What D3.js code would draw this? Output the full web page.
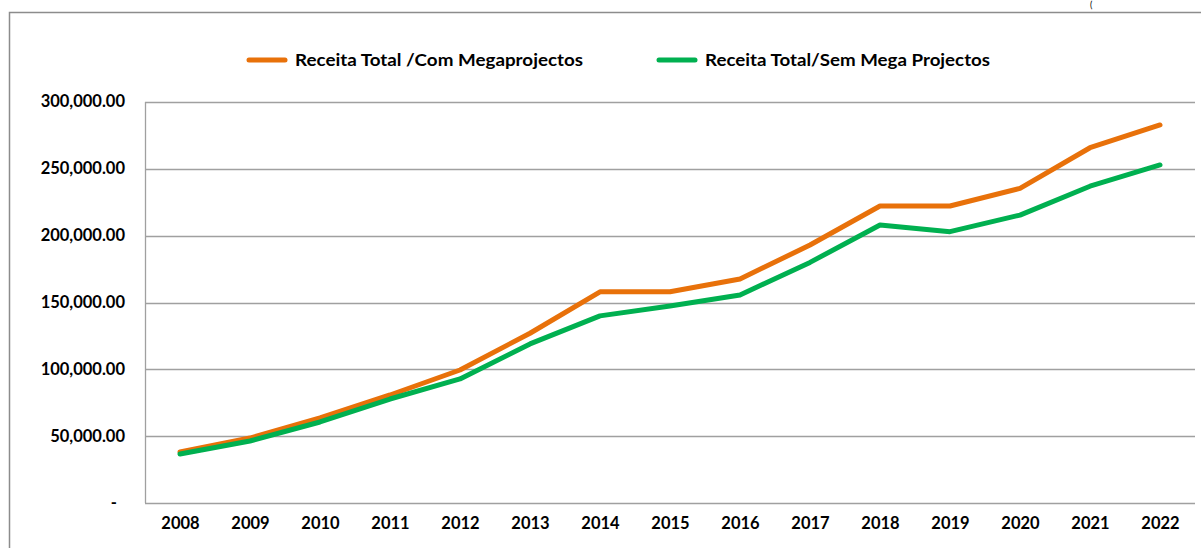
<!DOCTYPE html>
<html lang="pt">
<head>
<meta charset="UTF-8">
<title>Receita Total</title>
<script src="https://d3js.org/d3.v7.min.js"></script>
<style>
  body { margin: 0; background: #fff; }
  svg { display: block; font-family: Lato, "Open Sans", sans-serif; }
  .tick text { font-weight: bold; fill: #000; }
</style>
</head>
<body>
<svg id="chart" width="1201" height="548"></svg>
<script>
  const years = ["2008","2009","2010","2011","2012","2013","2014","2015","2016","2017","2018","2019","2020","2021","2022"];
  const comMega = [38200, 48600, 63600, 80800, 99500, 127000, 158000, 158000, 167600, 193000, 222200, 222200, 235400, 265800, 282800];
  const semMega = [36700, 46400, 60600, 77800, 92800, 119000, 140000, 147400, 155600, 180000, 208000, 203000, 215400, 237000, 252900];
  const yTicks = [0, 50000, 100000, 150000, 200000, 250000, 300000];
  const seriesNames = ["Receita Total /Com Megaprojectos", "Receita Total/Sem Mega Projectos"];
  const colors = ["#e8710a", "#00b050"];

  const svg = d3.select("#chart");
  const W = 1201, H = 548;
  const m = { left: 145, right: 1195, top: 102, bottom: 503 };

  // outer chart frame (cut off on right and bottom)
  svg.append("path")
    .attr("d", `M9.5,${H + 2}V12.5H${W + 2}`)
    .attr("fill", "none").attr("stroke", "#8c8c8c").attr("stroke-width", 1.5);

  svg.append("text").attr("x", 1090).attr("y", 8).attr("font-size", 9).attr("fill", "#000").text("(");

  const x = d3.scalePoint().domain(years).range([m.left, m.right]).padding(0.5);
  const y = d3.scaleLinear().domain([0, 300000]).range([m.bottom, m.top]);

  // gridlines
  svg.append("g").selectAll("line").data(yTicks).join("line")
    .attr("x1", m.left).attr("x2", m.right)
    .attr("y1", d => Math.round(y(d)) + 0.5).attr("y2", d => Math.round(y(d)) + 0.5)
    .attr("stroke", "#a0a0a0").attr("stroke-width", 1.3);

  svg.append("line")
    .attr("x1", m.left + 0.5).attr("x2", m.left + 0.5)
    .attr("y1", m.top).attr("y2", m.bottom)
    .attr("stroke", "#a0a0a0").attr("stroke-width", 1.3);

  const fmt = d => d === 0 ? "-" : d3.format(",.2f")(d);
  const yAxis = svg.append("g")
    .attr("transform", `translate(${m.left - 20},0)`)
    .call(d3.axisLeft(y).tickValues(yTicks).tickFormat(fmt).tickSize(0).tickPadding(0));
  yAxis.select(".domain").remove();
  yAxis.selectAll("text").attr("font-size", 16.5).attr("font-family", "Lato, sans-serif")
    .attr("dy", "0.3em")
    .attr("dx", d => d === 0 ? -8 : 0);

  const xAxis = svg.append("g")
    .attr("transform", `translate(0,${m.bottom})`)
    .call(d3.axisBottom(x).tickSize(0).tickPadding(14));
  xAxis.select(".domain").remove();
  xAxis.selectAll("text").attr("font-size", 16.5).attr("font-family", "Lato, sans-serif");

  const line = d3.line().x((d, i) => x(years[i])).y(d => y(d));
  [comMega, semMega].forEach((s, k) => {
    svg.append("path").datum(s)
      .attr("d", line)
      .attr("fill", "none")
      .attr("stroke", colors[k])
      .attr("stroke-width", 5)
      .attr("stroke-linejoin", "round")
      .attr("stroke-linecap", "round");
  });

  // legend
  const legX = [247, 657];
  const legW = [288, 285];
  seriesNames.forEach((name, k) => {
    const g = svg.append("g").attr("transform", `translate(${legX[k]},60)`);
    g.append("line").attr("x1", 2).attr("x2", 38).attr("y1", 0).attr("y2", 0)
      .attr("stroke", colors[k]).attr("stroke-width", 5).attr("stroke-linecap", "round");
    g.append("text").attr("x", 48).attr("y", 6)
      .attr("font-size", 17.5).attr("font-weight", "bold")
      .attr("textLength", legW[k]).attr("lengthAdjust", "spacingAndGlyphs")
      .text(name);
  });
</script>
</body>
</html>
